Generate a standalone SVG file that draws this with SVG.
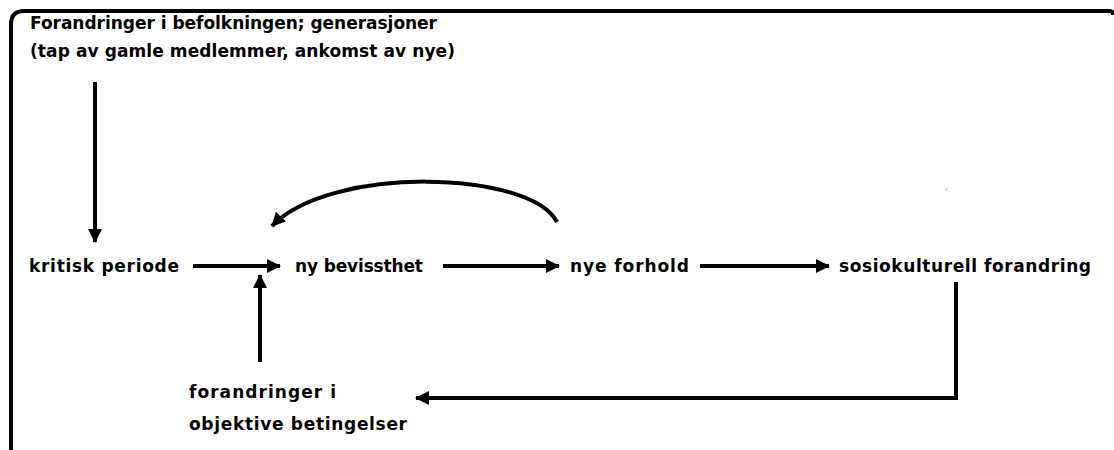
<svg xmlns="http://www.w3.org/2000/svg" width="1114" height="450" viewBox="0 0 1114 450">
<style>
text{font-family:"DejaVu Sans","Liberation Sans",sans-serif;font-weight:bold;font-size:17px;fill:#000}
.ln{fill:none;stroke:#000;stroke-width:4}
</style>
<defs>
<marker id="ah" markerWidth="16" markerHeight="16" refX="13" refY="8" orient="auto" markerUnits="userSpaceOnUse">
<path d="M0,1 L14,8 L0,15 Z" fill="#000"/>
</marker>
</defs>
<rect width="1114" height="450" fill="#fff"/>
<path id="frame" class="ln" d="M11,450 L11,24 Q11,11 24,11 L1110,11 Q1113,11 1113,15"/>
<g id="n-top"><text x="30" y="29" textLength="407">Forandringer i befolkningen; generasjoner</text><text x="30" y="57" textLength="425">(tap av gamle medlemmer, ankomst av nye)</text></g>
<g id="n-kritisk"><text x="29" y="272" textLength="150">kritisk periode</text></g>
<g id="n-ny"><text x="295" y="272" textLength="128">ny bevissthet</text></g>
<g id="n-nye"><text x="570" y="272" textLength="119">nye forhold</text></g>
<g id="n-sosio"><text x="839" y="272" textLength="252">sosiokulturell forandring</text></g>
<g id="n-obj"><text x="189" y="398" textLength="147">forandringer i</text><text x="189" y="430" textLength="218">objektive betingelser</text></g>
<g id="connectors">
<path class="ln" d="M95,82 L95,242" marker-end="url(#ah)"/>
<path class="ln" d="M193,266 L280,266" marker-end="url(#ah)"/>
<path class="ln" d="M443,266 L559,266" marker-end="url(#ah)"/>
<path class="ln" d="M700,266 L829,266" marker-end="url(#ah)"/>
<path class="ln" d="M260,362 L260,275" marker-end="url(#ah)"/>
<path class="ln" d="M557,222 C530,170 330,165 272,226" marker-end="url(#ah)"/>
<path class="ln" d="M956,282 L956,398 L416,398" marker-end="url(#ah)"/>
</g>
<rect x="946" y="189" width="1" height="1" fill="#f0f"/>
</svg>
